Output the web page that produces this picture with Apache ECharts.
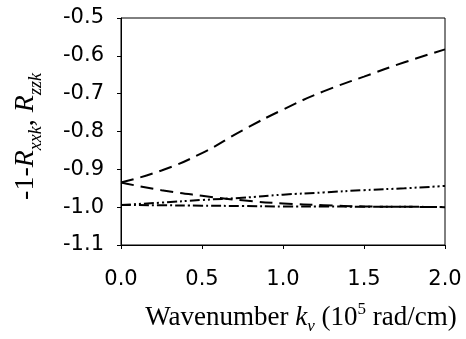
<!DOCTYPE html>
<html>
<head>
<meta charset="utf-8">
<script src="https://cdn.jsdelivr.net/npm/echarts@6/dist/echarts.min.js"></script>
<style>
  html, body { margin: 0; padding: 0; background: #fff; }
  #chart { width: 466px; height: 339px; }
</style>
</head>
<body>
<div id="chart"></div>
<script>
// wavenumber k_v (10^5 rad/cm)
var kv = [0, 0.25, 0.5, 0.75, 1.0, 1.25, 1.5, 1.75, 2.0];
// long dash, rising
var upperDash = [-0.935, -0.903, -0.857, -0.797, -0.742, -0.694, -0.655, -0.617, -0.583];
// medium dash, falling
var lowerDash = [-0.935, -0.955, -0.970, -0.982, -0.990, -0.995, -0.998, -0.999, -1.000];
// dash-dot-dot, rising slowly
var dashDotDot = [-0.994, -0.988, -0.981, -0.975, -0.967, -0.961, -0.955, -0.950, -0.944];
// dash-dot, nearly flat
var dashDot = [-0.994, -0.995, -0.996, -0.997, -0.998, -0.998, -0.999, -0.999, -1.000];

function pairs(ys) {
    return kv.map(function (x, i) { return [x, ys[i]]; });
}

var serif = 'Liberation Serif';
var sans = 'DejaVu Sans';

var chart = echarts.init(document.getElementById('chart'));
chart.setOption({
    animation: false,
    grid: { left: 121, right: 21, top: 18, bottom: 94, containLabel: false, outerBoundsMode: 'none' },
    xAxis: {
        type: 'value',
        min: 0, max: 2, interval: 0.5,
        name: 'Wavenumber {i|k}{sub|v} (10{sup|5} rad/cm)',
        nameLocation: 'middle',
        nameGap: 56,
        nameTextStyle: {
            fontFamily: serif, fontSize: 27, color: '#000',
            padding: [0, 0, 0, 36],
            rich: {
                i: { fontFamily: serif, fontSize: 27, fontStyle: 'italic', color: '#000' },
                sub: { fontFamily: serif, fontSize: 17, fontStyle: 'italic', color: '#000', verticalAlign: 'bottom', lineHeight: 34 },
                sup: { fontFamily: serif, fontSize: 17, color: '#000', verticalAlign: 'top', lineHeight: 34 }
            }
        },
        axisLine: { lineStyle: { color: '#000', width: 1 } },
        axisTick: { length: 4, lineStyle: { color: '#000' } },
        splitLine: { show: false },
        axisLabel: {
            fontFamily: sans, fontSize: 21, color: '#000', margin: 24,
            formatter: function (v) { return v.toFixed(1); }
        }
    },
    yAxis: {
        type: 'value',
        min: -1.1, max: -0.5, interval: 0.1,
        name: '-1-{i|R}{sub|xxk}, {i|R}{sub|zzk}',
        nameLocation: 'middle',
        nameGap: 76,
        nameRotate: 90,
        nameTextStyle: {
            fontFamily: serif, fontSize: 28, color: '#000',
            padding: [0, 10, 0, 0],
            rich: {
                i: { fontFamily: serif, fontSize: 28, fontStyle: 'italic', color: '#000' },
                sub: { fontFamily: serif, fontSize: 18, fontStyle: 'italic', color: '#000', verticalAlign: 'bottom', lineHeight: 38 }
            }
        },
        axisLine: { show: true, lineStyle: { color: '#000', width: 1 } },
        axisTick: { show: true, length: 4, lineStyle: { color: '#000' } },
        splitLine: { show: false },
        axisLabel: {
            fontFamily: sans, fontSize: 21, color: '#000', margin: 17,
            formatter: function (v) { return v.toFixed(1); }
        }
    },
    graphic: [{
        type: 'rect',
        shape: { x: 121, y: 18, width: 324, height: 227 },
        style: { fill: 'none', stroke: '#000', lineWidth: 1 },
        silent: true
    }],
    series: [
        {
            type: 'line', data: pairs(upperDash), smooth: true, symbol: 'none',
            lineStyle: { color: '#000', width: 2, type: [13, 7] }
        },
        {
            type: 'line', data: pairs(lowerDash), smooth: true, symbol: 'none',
            lineStyle: { color: '#000', width: 2, type: [13, 7] }
        },
        {
            type: 'line', data: pairs(dashDotDot), smooth: true, symbol: 'none',
            lineStyle: { color: '#000', width: 2, type: [10, 3, 2, 3, 2, 3] }
        },
        {
            type: 'line', data: pairs(dashDot), smooth: true, symbol: 'none',
            lineStyle: { color: '#000', width: 2, type: [10, 3, 2, 3] }
        }
    ]
});
</script>
</body>
</html>
